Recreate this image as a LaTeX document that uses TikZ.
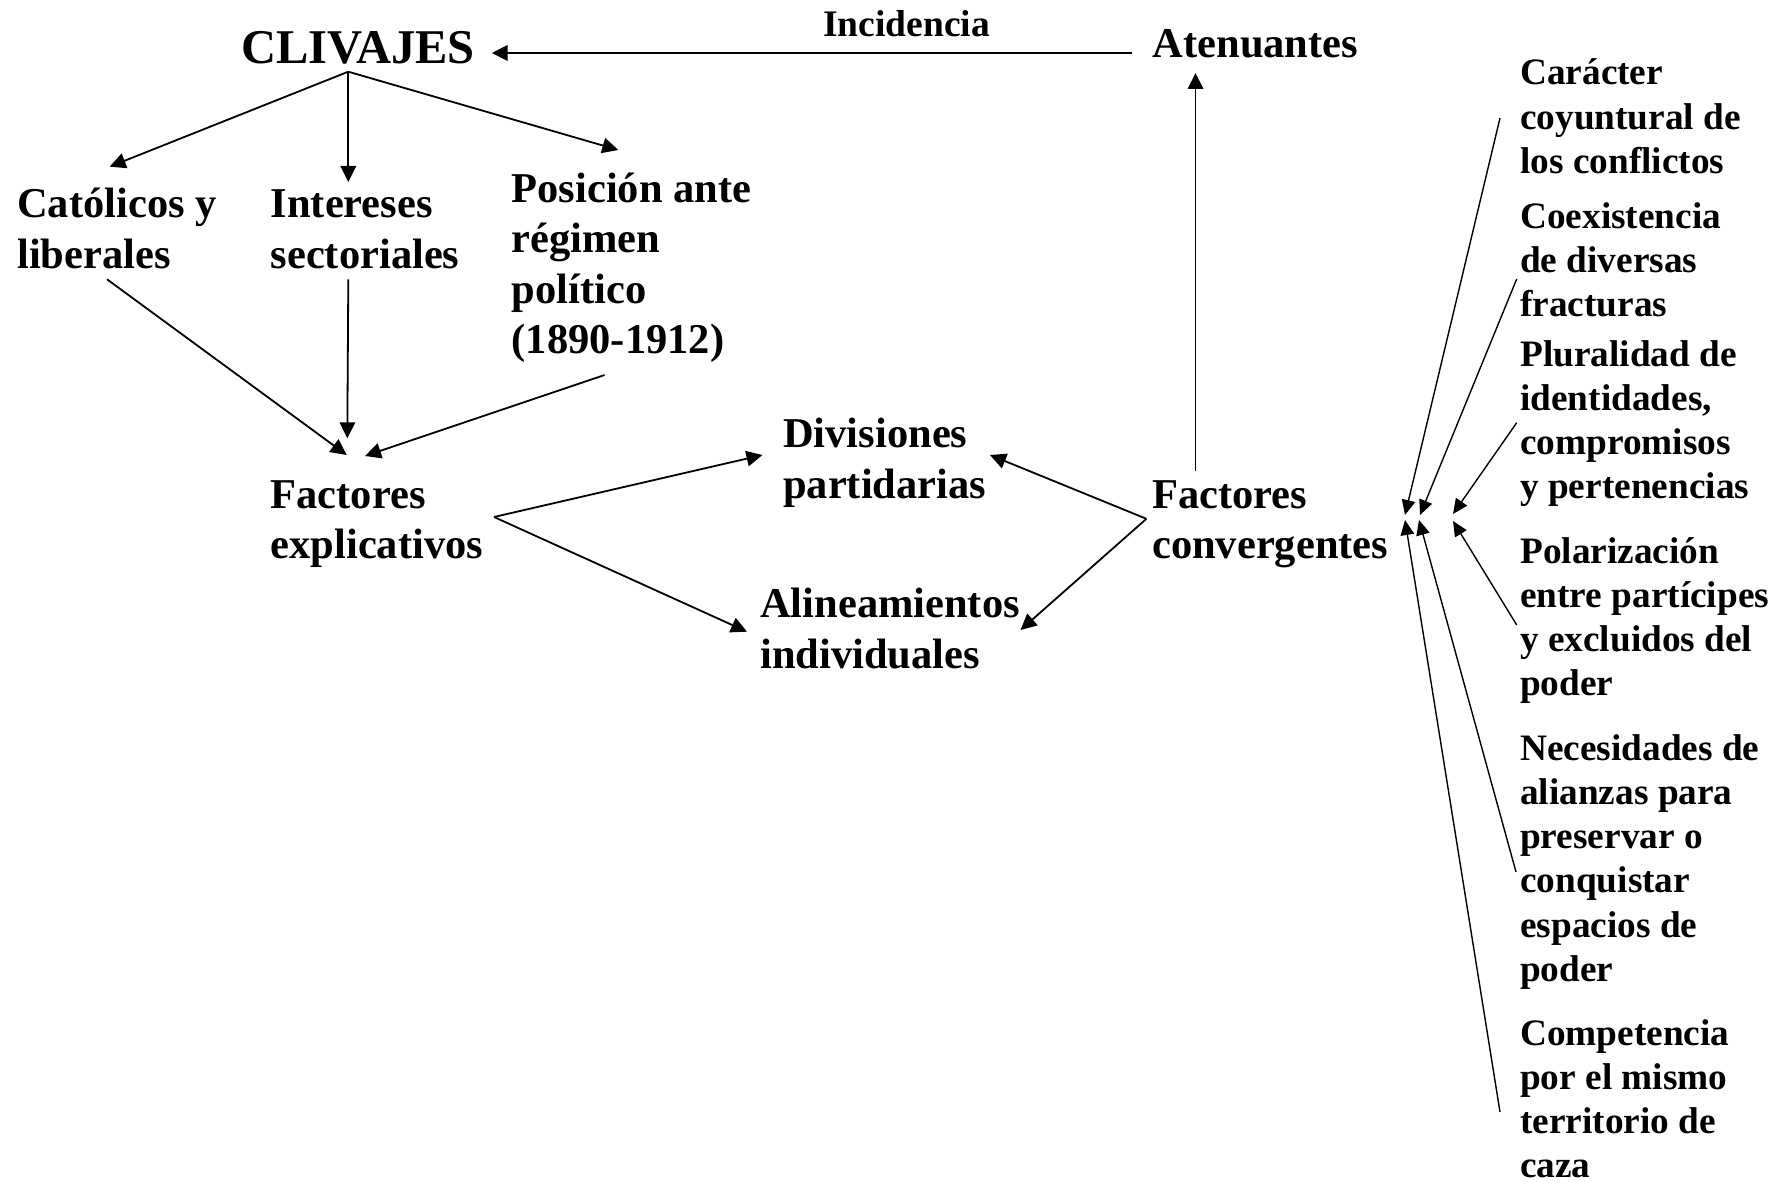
\documentclass[tikz,border=0pt]{standalone}
\usepackage{fontspec}
\setmainfont{Liberation Serif}
\usetikzlibrary{arrows.meta}
\begin{document}
\begin{tikzpicture}[x=1pt,y=-1pt,
  lbl/.style={inner sep=0pt, anchor=base west, align=left,
    font=\bfseries\fontsize{42.5}{50.5}\selectfont},
  side/.style={lbl, font=\bfseries\fontsize{37.3}{44.3}\selectfont},
  arr/.style={line width=1.8pt, -{Triangle[length=16pt,width=15.5pt]}},
  tarr/.style={line width=1.4pt, -{Triangle[length=15pt,width=13.5pt]}}]
\useasboundingbox (0,0) rectangle (1782,1182);

% main concept labels (each placed by the baseline of its last line)
\node[lbl, font=\bfseries\fontsize{48.5}{55}\selectfont] (cliv) at (241,63.3) {CLIVAJES};
\node[lbl, font=\bfseries\fontsize{37.5}{44}\selectfont] (incid) at (823,36.7) {Incidencia};
\node[lbl] (aten) at (1152.5,58) {Atenuantes};
\node[lbl] (cat) at (17,268.5) {Católicos y\\liberales};
\node[lbl] (inter) at (270.5,268.5) {Intereses\\sectoriales};
\node[lbl] (pos) at (511.5,353.5) {Posición ante\\régimen\\político\\(1890-1912)};
\node[lbl] (fexp) at (270.5,558.5) {Factores\\explicativos};
\node[lbl] (div) at (783,498) {Divisiones\\partidarias};
\node[lbl] (alin) at (760,668) {Alineamientos\\individuales};
\node[lbl] (fconv) at (1152,558.5) {Factores\\convergentes};

% converging factors listed on the right
\node[side] (f1) at (1520,173.6) {Carácter\\coyuntural de\\los conflictos};
\node[side] (f2) at (1520,316.6) {Coexistencia\\de diversas\\fracturas};
\node[side] (f3) at (1520,498.9) {Pluralidad de\\identidades,\\compromisos\\y pertenencias};
\node[side] (f4) at (1520,695.9) {Polarización\\entre partícipes\\y excluidos del\\poder};
\node[side] (f5) at (1520,981.5) {Necesidades de\\alianzas para\\preservar o\\conquistar\\espacios de\\poder};
\node[side] (f6) at (1520,1177.9) {Competencia\\por el mismo\\territorio de\\caza};

% connector end points
\coordinate (clivFan) at (348.3,71.7);
\coordinate (catIn) at (109.7,166.7);
\coordinate (interIn) at (348.3,182);
\coordinate (posIn) at (618.3,150);
\coordinate (catOut) at (107,279.3);
\coordinate (interOut) at (348.3,279.3);
\coordinate (posOut) at (604.6,375);
\coordinate (fexpInA) at (346.7,455);
\coordinate (fexpInB) at (347.3,438.3);
\coordinate (fexpInC) at (365,456);
\coordinate (fexpOut) at (494,517);
\coordinate (divInL) at (762.5,455);
\coordinate (alinInL) at (747,631.7);
\coordinate (fconvOut) at (1146.4,518.8);
\coordinate (divInR) at (990,455);
\coordinate (alinInR) at (1020.5,630);
\coordinate (fconvUp) at (1195.5,471);
\coordinate (atenIn) at (1195.5,73);
\coordinate (atenOut) at (1132,53);
\coordinate (clivIn) at (491.7,53);
\coordinate (f1Out) at (1500,118);
\coordinate (f2Out) at (1516.7,279);
\coordinate (f3Out) at (1516.7,422.7);
\coordinate (f4Out) at (1516.7,625);
\coordinate (f5Out) at (1516,872);
\coordinate (f6Out) at (1500,1112);
\coordinate (convA1) at (1405,515);
\coordinate (convA2) at (1420,515);
\coordinate (convA3) at (1453,514);
\coordinate (convB1) at (1405,520);
\coordinate (convB2) at (1419,520);
\coordinate (convB3) at (1453,521);

% cleavages and their three axes
\draw[arr] (clivFan) -- (catIn);
\draw[arr] (clivFan) -- (interIn);
\draw[arr] (clivFan) -- (posIn);
\draw[arr] (catOut) -- (fexpInA);
\draw[arr] (interOut) -- (fexpInB);
\draw[arr] (posOut) -- (fexpInC);

% explanatory and converging factors
\draw[arr] (fexpOut) -- (divInL);
\draw[arr] (fexpOut) -- (alinInL);
\draw[arr] (fconvOut) -- (divInR);
\draw[arr] (fconvOut) -- (alinInR);
\draw[arr] (fconvUp) -- (atenIn);
\draw[arr] (atenOut) -- (clivIn);

% factors feeding the convergence
\draw[tarr] (f1Out) -- (convA1);
\draw[tarr] (f2Out) -- (convA2);
\draw[tarr] (f3Out) -- (convA3);
\draw[tarr] (f4Out) -- (convB3);
\draw[tarr] (f5Out) -- (convB2);
\draw[tarr] (f6Out) -- (convB1);
\end{tikzpicture}
\end{document}
